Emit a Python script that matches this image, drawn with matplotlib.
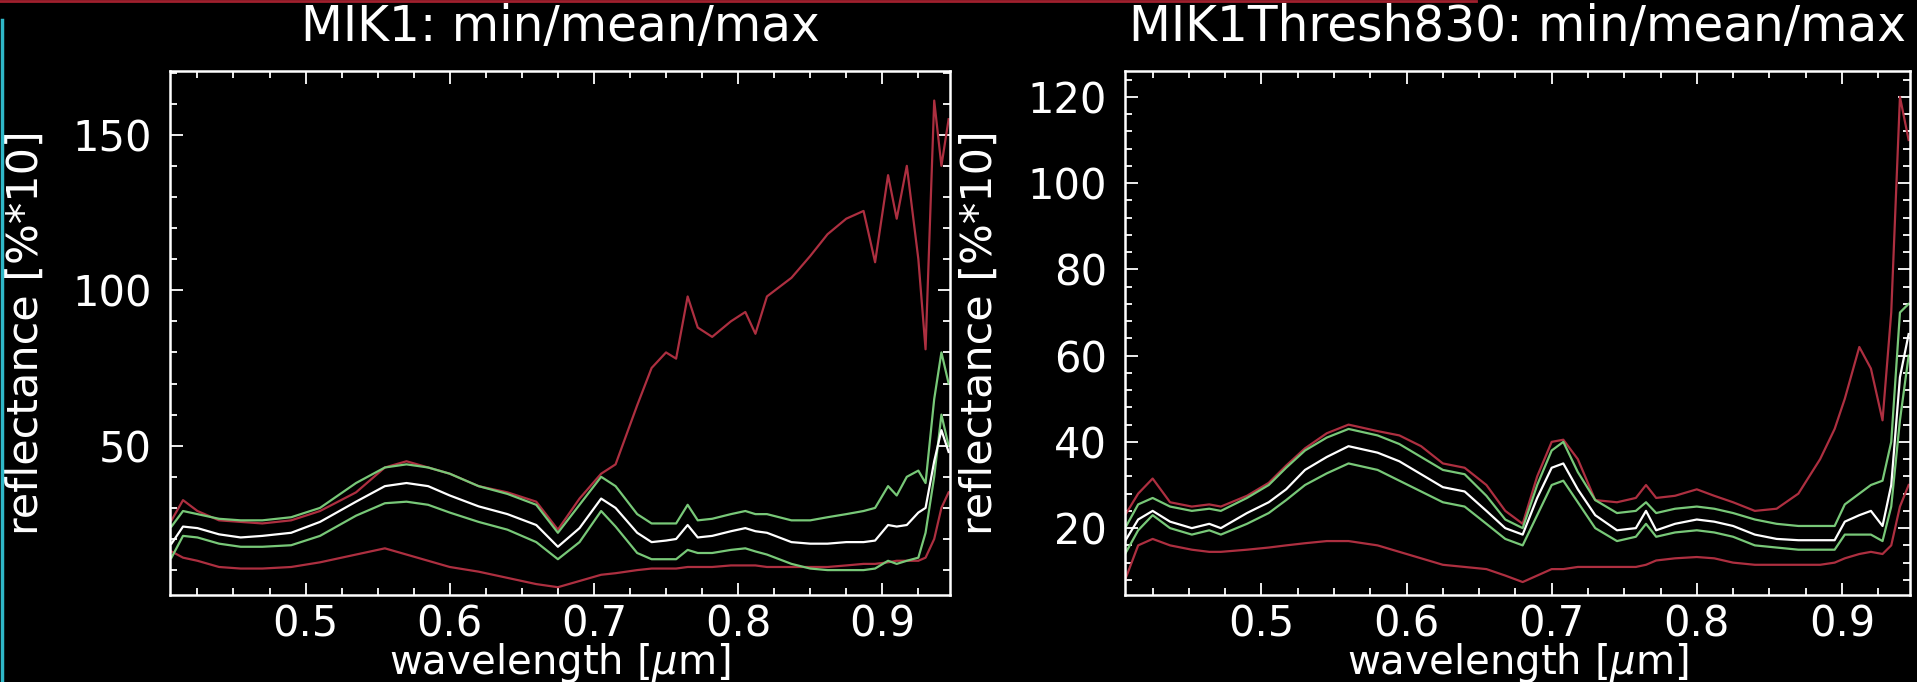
import matplotlib

matplotlib.use("Agg")
import matplotlib.pyplot as plt
from matplotlib.lines import Line2D
from matplotlib.ticker import MultipleLocator

# ---- data (reflectance [%*10] vs wavelength [um]) ----
wl_mik1 = [0.407, 0.415, 0.425, 0.44, 0.455, 0.47, 0.49, 0.51, 0.535, 0.555,
           0.57, 0.585, 0.60, 0.62, 0.64, 0.66, 0.675, 0.69, 0.705, 0.715,
           0.73, 0.74, 0.75, 0.757, 0.765, 0.772, 0.782, 0.795, 0.805, 0.812,
           0.82, 0.837, 0.85, 0.862, 0.875, 0.887, 0.895, 0.904, 0.91, 0.917,
           0.925, 0.93, 0.936, 0.941, 0.946]
mik1_max = [26, 32.5, 29, 26, 25.5, 25, 26, 29, 35, 43,
            45, 43, 41, 37, 35, 32, 23, 33, 41, 44,
            63, 75, 80, 78, 98, 88, 85, 90, 93, 86,
            98, 104, 111, 118, 123, 125.5, 109, 137, 123, 140,
            110, 81, 161, 140, 155]
mik1_upper = [24, 29, 28, 26.5, 26, 26, 27, 30, 38, 43,
              44, 43, 41, 37, 34.5, 31, 22, 31, 40, 37,
              28, 25, 25, 25, 31, 26, 26.5, 28, 29, 28,
              28, 26, 26, 27, 28, 29, 30, 37, 34, 40,
              42, 38, 65, 80, 70]
mik1_mean = [18.5, 24, 23.5, 21.5, 20.5, 21, 22, 25.5, 32, 37,
             38, 37, 34, 30.5, 28, 24.5, 17.5, 23.5, 33, 30,
             22, 19, 19.5, 20, 24.5, 20.5, 21, 22.5, 23.5, 22.5,
             22, 19, 18.5, 18.5, 19, 19, 19.5, 24.5, 24, 24.5,
             28.5, 30, 45, 55, 48]
mik1_lower = [14, 21, 20.5, 18.5, 17.5, 17.5, 18, 21, 27.5, 31.5,
              32, 31, 28.5, 25.5, 23, 19, 13.5, 19, 29, 24,
              15.5, 13.5, 13.5, 13.5, 16.5, 15.5, 15.5, 16.5, 17, 16,
              15, 12, 10.5, 10, 10, 10, 10.5, 13, 12, 13,
              14, 22, 40, 60, 50]
mik1_min = [16, 14, 13, 11, 10.5, 10.5, 11, 12.5, 15, 17,
            15, 13, 11, 9.5, 7.5, 5.5, 4.5, 6.5, 8.5, 9,
            10, 10.5, 10.5, 10.5, 11, 11, 11, 11.5, 11.5, 11.5,
            11, 11, 11, 11, 11.5, 12, 12, 12.5, 13, 13,
            13, 14, 20, 30, 35]

wl_thr = [0.406, 0.415, 0.425, 0.437, 0.452, 0.464, 0.472, 0.49, 0.505, 0.517,
          0.53, 0.545, 0.56, 0.58, 0.595, 0.61, 0.625, 0.64, 0.655, 0.668,
          0.68, 0.69, 0.70, 0.708, 0.718, 0.73, 0.745, 0.758, 0.765, 0.772,
          0.785, 0.80, 0.812, 0.825, 0.84, 0.855, 0.87, 0.885, 0.895, 0.902,
          0.912, 0.92, 0.928, 0.934, 0.94, 0.946]
thr_max = [23, 28, 31.5, 26, 25, 25.5, 25, 27.5, 30.5, 34.5,
           38.5, 42, 44, 42.5, 41.5, 39, 35, 34, 30, 24,
           21, 32, 40, 40.5, 36, 26.5, 26, 27, 30, 27,
           27.5, 29, 27.5, 26, 24, 24.5, 28, 36, 43, 50,
           62, 57, 45, 70, 120, 110]
thr_upper = [20, 25.5, 27, 25, 24, 24.5, 24, 27, 30, 34,
             38, 41, 43, 41.5, 39.5, 36.5, 33.5, 32.5, 27.5, 22,
             20, 30, 38, 40, 33, 26.5, 23.5, 24, 26, 23.5,
             24.5, 25, 24.5, 23.5, 22, 21, 20.5, 20.5, 20.5, 25.5,
             28, 30, 31, 40, 70, 72]
thr_mean = [17, 22, 24, 21.5, 20, 21, 20, 23.5, 26, 29,
            33.5, 36.5, 39, 37.5, 35.5, 32.5, 29.5, 28.5, 24, 20,
            18.5, 27, 34, 35, 29, 23, 19.5, 20, 24, 19.5,
            21, 22, 21.5, 20.5, 18.5, 17.5, 17.2, 17.2, 17.2, 21.5,
            23, 24, 20.5, 30, 55, 65]
thr_lower = [14, 19.5, 23, 20, 18.5, 19.5, 18.5, 21, 23.5, 26.5,
             30, 32.7, 35, 33.5, 31, 28.5, 26, 25, 21, 17.5,
             16, 23, 30, 31, 26, 20, 17, 18, 21, 18,
             19, 19.5, 19, 18, 16, 15.5, 15, 15, 15, 18.5,
             18.5, 18.5, 17, 25, 45, 60]
thr_min = [8, 16, 17.5, 16, 15, 14.5, 14.5, 15, 15.5, 16,
           16.5, 17, 17, 16, 14.5, 13, 11.5, 11, 10.5, 9,
           7.5, 9, 10.5, 10.5, 11, 11, 11, 11, 11.5, 12.5,
           13, 13.3, 13, 12, 11.5, 11.5, 11.5, 11.5, 12, 13,
           14, 14.5, 14, 16, 25, 30]

xticks = [0.5, 0.6, 0.7, 0.8, 0.9]

RED = "#ad2f40"
GREEN = "#78c878"


def draw_panel(ax, wl, mx, up, mean, lo, mn, title, ylim, yticks, yminor):
    ax.set_facecolor("black")
    for series, col in ((mn, RED), (mx, RED), (lo, GREEN), (up, GREEN), (mean, "white")):
        ax.plot(wl, series, color=col, lw=1.6)
    ax.set_xlim(0.406, 0.947)
    ax.set_ylim(*ylim)
    ax.set_xticks(xticks)
    ax.set_xticklabels([f"{t:.1f}" for t in xticks])
    ax.xaxis.set_minor_locator(MultipleLocator(0.025))
    ax.set_yticks(yticks)
    ax.yaxis.set_minor_locator(MultipleLocator(yminor))
    ax.tick_params(which="both", direction="in", top=True, right=True,
                   colors="white", labelsize=30, width=1.3)
    ax.tick_params(which="major", length=9)
    ax.tick_params(which="minor", length=5)
    ax.tick_params(axis="y", pad=13)
    ax.tick_params(axis="x", pad=6)
    for sp in ax.spines.values():
        sp.set_color("white")
        sp.set_linewidth(1.8)
    ax.set_xlabel("wavelength [$\\mu$m]", color="white", fontsize=29, va="center")
    ax.xaxis.set_label_coords(0.5, -0.13)
    ax.set_ylabel("reflectance [%*10]", color="white", fontsize=31, va="center")
    ax.yaxis.set_label_coords(-0.185, 0.5)
    ax.text(0.5, 1.084, title, color="white", fontsize=35, ha="center",
            va="center", transform=ax.transAxes)


fig = plt.figure(figsize=(19.17, 6.82), dpi=100, facecolor="black")
ax1 = fig.add_axes([0.0887, 0.1276, 0.4069, 0.7683])
ax2 = fig.add_axes([0.5869, 0.1276, 0.4095, 0.7683])

draw_panel(ax1, wl_mik1, mik1_max, mik1_upper, mik1_mean, mik1_lower, mik1_min,
           "MIK1: min/mean/max", (2, 170.5), [50, 100, 150], 10)
draw_panel(ax2, wl_thr, thr_max, thr_upper, thr_mean, thr_lower, thr_min,
           "MIK1Thresh830: min/mean/max", (4.5, 126), [20, 40, 60, 80, 100, 120], 4)

# thin coloured border artefacts of the original screenshot
fig.add_artist(Line2D([0.001, 0.001], [0.0, 0.97], color="#2fb8c8", lw=2.5,
                      transform=fig.transFigure))
fig.add_artist(Line2D([0.0, 0.77], [0.998, 0.998], color="#a0202e", lw=2,
                      transform=fig.transFigure))

fig.savefig("out.png", dpi=100, facecolor="black")
